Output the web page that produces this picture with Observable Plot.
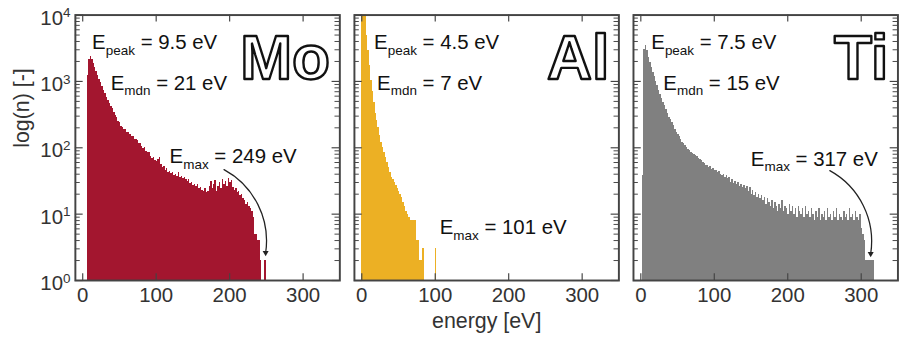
<!DOCTYPE html>
<html><head><meta charset="utf-8">
<script src="https://cdn.jsdelivr.net/npm/d3@7"></script>
<script src="https://cdn.jsdelivr.net/npm/@observablehq/plot@0.6"></script>
<style>html,body{margin:0;padding:0;overflow:hidden;background:#fff}</style>
</head><body><div id="chart"></div>
<script>
// ---- data ----
const elements = ["Mo", "Al", "Ti"];
const colors = ["#a3162f", "#ecb024", "#808080"];
const binWidth = 2; // eV
const moStart = 6, alStart = 0, tiStart = 2;
const moCounts = [1250,2150,2400,2150,1850,1600,1420,1230,1080,960,830,720,660,570,520,470,415,390,340,310,
  285,250,240,212,205,186,190,170,172,158,150,146,135,132,128,116,118,104,98,100,
  88,84,86,74,70,72,64,62,66,72,56,50,52,46,48,43,44,41,42,38,
  40,37,42,36,37,34,36,33,31,33,29,30,27,28,26,28,24,25,23,22,
  24,21,22,26,31,24,28,32,22,26,30,24,33,28,31,26,34,30,32,25,
  23,24,21,22,19,20,17,16,14,15,13,12,11,9,5,5,4,4,2,0,0,2];
const alCounts = [10500,14000,15000,5000,2950,1750,1050,710,480,330,257,200,155,120,100,84,71,60,50,43,
  36,33,30,27,24,22,20,18,15,13,11,10,9,8,8,8,8,4,4,2,
  2,3,3,0,0,0,0,0,0,0,3];
const tiCounts = [38,3000,3450,2900,2300,1950,1600,1350,1200,1000,860,730,640,560,480,430,380,330,290,265,
  240,215,190,172,160,148,134,122,116,108,102,95,90,86,82,78,76,73,70,66,
  64,60,58,55,54,50,52,47,48,45,46,42,44,40,38,40,36,38,34,36,
  30,33,29,31,28,30,26,28,25,27,24,26,22,25,20,23,19,21,18,20,
  17,19,16,18,14,17,15,13,16,12,15,13,11,14,12,16,11,13,12,10,
  14,11,13,10,12,9,13,11,10,12,9,13,10,11,9,12,10,8,11,9,
  12,8,10,9,11,8,12,9,10,8,11,9,12,8,10,9,8,11,9,10,
  8,12,9,10,8,11,9,8,10,6,5,4,2,2,2,2,2,2];
const peakLabels = ["E_{peak} = 9.5 eV", "E_{peak} = 4.5 eV", "E_{peak} = 7.5 eV"];
const mdnLabels = ["E_{mdn} = 21 eV", "E_{mdn} = 7 eV", "E_{mdn} = 15 eV"];
const maxLabels = ["E_{max} = 249 eV", "E_{max} = 101 eV", "E_{max} = 317 eV"];
// annotation anchors in data units (eV, count)
const peakPos = [[12.8, 3070], [16.8, 3070], [14.2, 3070]];
const mdnPos = [[38, 752], [20.8, 752], [30.6, 752]];
const maxPos = [[118.3, 59.3], [106, 5.05], [149.7, 53.6]];
const arrows = [
  {el: "Mo", e1: 192.4, n1: 46.8, e2: 249, n2: 2.62},
  {el: "Ti", e1: 257.3, n1: 45.2, e2: 312.9, n2: 2.53}
];
const xTicks = [0, 100, 200, 300];
const yMajor = [1, 10, 100, 1000, 10000];
const yMinor = [2,3,4,5,6,7,8,9,20,30,40,50,60,70,80,90,200,300,400,500,600,700,800,900,2000,3000,4000,5000,6000,7000,8000,9000];
const yTickLabels = ["10^{0}", "10^{1}", "10^{2}", "10^{3}", "10^{4}"];

// ---- tables ----
const bins = [];
function addBins(el, start, counts) {
  counts.forEach((n, i) => { if (n > 0) bins.push({el, x1: start + i * binWidth, x2: start + (i + 1) * binWidth, n}); });
}
addBins("Mo", moStart, moCounts);
addBins("Al", alStart, alCounts);
addBins("Ti", tiStart, tiCounts);
const annots = [];
elements.forEach((el, i) => {
  annots.push({el, t: peakLabels[i], e: peakPos[i][0], n: peakPos[i][1]});
  annots.push({el, t: mdnLabels[i], e: mdnPos[i][0], n: mdnPos[i][1]});
  annots.push({el, t: maxLabels[i], e: maxPos[i][0], n: maxPos[i][1]});
});

const W = 940, H = 356, mL = 77, mR = 17, mT = 15, mB = 68;
const padIn = 15 / 287;
const bw = (W - mL - mR) * (1 - padIn) / (3 - padIn);
const fh = H - mT - mB;
const axisColor = "#444";
const font = "'Liberation Sans', Arial, Helvetica, sans-serif";

const chart = Plot.plot({
  width: W, height: H, marginLeft: mL, marginRight: mR, marginTop: mT, marginBottom: mB,
  style: {fontFamily: font, background: "white", overflow: "visible"},
  fx: {domain: elements, paddingInner: padIn, paddingOuter: 0, round: false, axis: null, label: null},
  x: {domain: [-10, 350], axis: null},
  y: {type: "log", domain: [1, 1e4], axis: null},
  color: {domain: elements, range: colors},
  marks: [
    Plot.rect(bins, {fx: "el", x1: "x1", x2: "x2", y1: 1, y2: "n", fill: "el", shapeRendering: "crispEdges", clip: true}),
    Plot.tickY(yMajor, {y: d => d, insetRight: bw - 8, stroke: axisColor, strokeWidth: 1.2}),
    Plot.tickY(yMajor, {y: d => d, insetLeft: bw - 8, stroke: axisColor, strokeWidth: 1.2}),
    Plot.tickY(yMinor, {y: d => d, insetRight: bw - 5, stroke: axisColor, strokeWidth: 1}),
    Plot.tickY(yMinor, {y: d => d, insetLeft: bw - 5, stroke: axisColor, strokeWidth: 1}),
    Plot.tickX(xTicks, {x: d => d, insetTop: fh - 7, stroke: axisColor, strokeWidth: 1.2}),
    Plot.tickX(xTicks, {x: d => d, insetBottom: fh - 7, stroke: axisColor, strokeWidth: 1.2}),
    Plot.frame({stroke: axisColor, strokeWidth: 2}),
    Plot.text(xTicks, {x: d => d, frameAnchor: "bottom", dy: 22, fontSize: 21, fill: "#333"}),
    Plot.text(yMajor.map((v, i) => ({el: "Mo", v, t: yTickLabels[i]})), {fx: "el", y: "v", text: "t", frameAnchor: "left", dx: -5, dy: 3, textAnchor: "end", fontSize: 21, fill: "#333"}),
    Plot.text([{el: "Mo"}], {fx: "el", frameAnchor: "left", text: () => "log(n) [-]", rotate: -90, dx: -55, fontSize: 22, fill: "#333"}),
    Plot.text([{el: "Al"}], {fx: "el", frameAnchor: "bottom", text: () => "energy [eV]", dy: 49, fontSize: 22, fill: "#333"}),
    Plot.text(annots, {fx: "el", x: "e", y: "n", text: "t", textAnchor: "start", lineAnchor: "bottom", fontSize: 21, fill: "#111"}),
    Plot.arrow(arrows, {fx: "el", x1: "e1", y1: "n1", x2: "e2", y2: "n2", bend: 35, headLength: 0, stroke: "#222", strokeWidth: 1.3}),
    Plot.dot(arrows, {fx: "el", x: "e2", y: "n2", symbol: "triangle", rotate: 180, r: 2.3, fill: "#222", stroke: "none"}),
    Plot.text(elements.map(el => ({el})), {fx: "el", text: "el", frameAnchor: "top-right", dx: -10, dy: 20, lineAnchor: "top", fontSize: 64, fontWeight: "bold", fill: "white", stroke: "#111", strokeWidth: 2.5, paintOrder: "normal"})
  ]
});
document.getElementById("chart").appendChild(chart);

// sub/superscripts as real tspans
d3.select(chart).selectAll("text").each(function() {
  const s = this.textContent;
  if (!/[_^]\{/.test(s)) return;
  const base = parseFloat(getComputedStyle(this).fontSize) || 20;
  const parts = [...s.matchAll(/([_^])\{([^}]*)\}|([^_^]+)/g)];
  this.textContent = "";
  this.style.whiteSpace = "pre";
  let shift = 0;
  for (const p of parts) {
    const t = document.createElementNS("http://www.w3.org/2000/svg", "tspan");
    let target = 0, size = base;
    if (p[1]) { size = base * 0.66; target = p[1] === "_" ? base * 0.28 : -base * 0.36; t.textContent = p[2]; }
    else t.textContent = p[3];
    t.setAttribute("font-size", size);
    t.setAttribute("dy", target - shift);
    shift = target;
    this.appendChild(t);
  }
});
</script></body></html>
